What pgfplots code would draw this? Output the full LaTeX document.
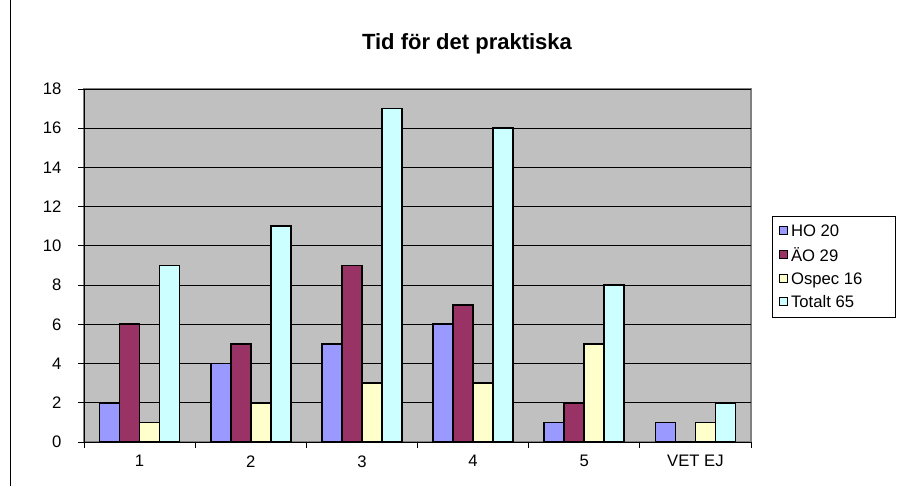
\documentclass[border=0pt]{standalone}
\usepackage{fontspec}
\setmainfont{Liberation Sans}
\usepackage{pgfplots}
\pgfplotsset{compat=1.18}

\definecolor{hoBlue}{HTML}{9999FF}
\definecolor{aoPlum}{HTML}{993366}
\definecolor{ospecYellow}{HTML}{FFFFCC}
\definecolor{totCyan}{HTML}{CCFFFF}
\definecolor{plotGray}{HTML}{C0C0C0}
\definecolor{edgeGray}{HTML}{808080}

\newcommand{\lent}[1]{\makebox[71pt][l]{#1}}

\begin{document}
\begin{tikzpicture}
  % page frame 903x486 px at 0.75pt per px
  \path[use as bounding box] (0pt,0pt) rectangle (677.25pt,364.5pt);
  \draw[black, line width=0.75pt] (7.9pt,0pt) -- (7.9pt,364.5pt);

  \begin{axis}[
    at={(63pt,33pt)}, anchor=south west,
    scale only axis,
    width=500.25pt, height=264.75pt,
    ybar=0pt,
    bar width=0.18,
    xmin=-0.5, xmax=5.5,
    ymin=0, ymax=18,
    xtick={-0.5,0.5,...,5.5},
    x tick label as interval,
    xticklabels={1,2,3,4,5,VET EJ},
    ytick={0,2,...,18},
    tick align=outside,
    major tick length=4.5pt,
    tick style={black, line width=0.75pt},
    axis x line*=bottom,
    axis y line*=left,
    axis line style={black, line width=0.75pt, -},
    axis background/.style={fill=plotGray, draw=edgeGray, line width=1.5pt},
    ymajorgrids,
    grid style={black, line width=0.75pt},
    ticklabel style={font=\fontsize{12.5}{15}\selectfont},
    yticklabel style={xshift=-9pt},
    xticklabel style={yshift=-2pt},
    /pgf/number format/assume math mode=true,
    legend style={
      at={(1.0315,0.640)}, anchor=north west,
      draw=black, line width=0.75pt, fill=white,
      font=\fontsize{12.5}{15}\selectfont,
      row sep=3pt, inner xsep=5pt, inner ysep=4pt,
      /tikz/every even column/.append style={column sep=0pt},
    },
    legend cell align=left,
    legend image code/.code={
      \draw[#1, line width=0.9pt] (0pt,-2.2pt) rectangle (6pt,3.8pt);
    },
    every axis plot/.append style={draw=black, line width=1.3pt},
  ]
    \addplot[fill=hoBlue] coordinates {(0,2) (1,4) (2,5) (3,6) (4,1) (5,1)};
    \addplot[fill=aoPlum] coordinates {(0,6) (1,5) (2,9) (3,7) (4,2) (5,0)};
    \addplot[fill=ospecYellow] coordinates {(0,1) (1,2) (2,3) (3,3) (4,5) (5,1)};
    \addplot[fill=totCyan] coordinates {(0,9) (1,11) (2,17) (3,16) (4,8) (5,2)};
    \legend{\lent{HO 20},\lent{ÄO 29},\lent{Ospec 16},\lent{Totalt 65}}
  \end{axis}

  \node[font=\bfseries\fontsize{16.5}{18}\selectfont, anchor=base] at (350.25pt,327pt) {Tid för det praktiska};
\end{tikzpicture}
\end{document}
